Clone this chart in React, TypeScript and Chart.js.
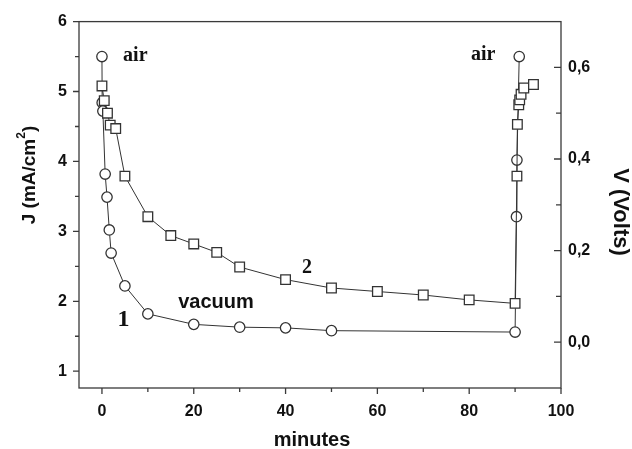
import React, { useEffect, useRef } from 'react';
import { Chart, registerables } from 'chart.js';

Chart.register(...registerables);

// Curve 1 (circles)
const circleX = [0, 0.05, 0.2, 0.7, 1.1, 1.6, 2.0, 5, 10, 20, 30, 40, 50, 90, 90.3, 90.4, 90.9];
const circleJ = [5.5, 4.84, 4.72, 3.82, 3.49, 3.02, 2.69, 2.22, 1.82, 1.67, 1.63, 1.62, 1.58, 1.56, 3.21, 4.02, 5.5];

// Curve 2 (squares)
const squareX = [0, 0.5, 1.2, 1.8, 3, 5, 10, 15, 20, 25, 30, 40, 50, 60, 70, 80, 90, 90.4, 90.5, 90.8, 91.0, 91.3, 91.9, 94];
const squareJ = [5.08, 4.87, 4.69, 4.52, 4.47, 3.79, 3.21, 2.94, 2.82, 2.7, 2.49, 2.31, 2.19, 2.14, 2.09, 2.02, 1.97, 3.79, 4.53, 4.81, 4.88, 4.96, 5.05, 5.1];

const xMajor = [0, 20, 40, 60, 80, 100];
const xMinor = [10, 30, 50, 70, 90];
const jMajor = [1, 2, 3, 4, 5, 6];
const jMinor = [1.5, 2.5, 3.5, 4.5, 5.5];
const vMajor = [0, 0.2, 0.4, 0.6];
const vMinor = [0.1, 0.3, 0.5];
const vLabels = ['0,0', '0,2', '0,4', '0,6'];

const AXIS = '#3a3a3a';
const SANS = '"Liberation Sans", Arial, sans-serif';
const SERIF = '"Liberation Serif", "Times New Roman", serif';

const annotations = [
  { text: 'air', x: 4.6, y: 5.44, font: `bold 20px ${SERIF}` },
  { text: 'air', x: 80.4, y: 5.45, font: `bold 20px ${SERIF}` },
  { text: 'vacuum', x: 16.6, y: 1.91, font: `bold 20px ${SANS}` },
  { text: '1', x: 3.4, y: 1.64, font: `bold 24px ${SERIF}` },
  { text: '2', x: 43.6, y: 2.4, font: `bold 20px ${SERIF}` },
];

const decorPlugin = {
  id: 'decor',
  afterDraw(chart: any) {
    const ctx = chart.ctx as CanvasRenderingContext2D;
    const { left, right, top, bottom } = chart.chartArea;
    const sx = chart.scales.x;
    const sy = chart.scales.y;
    const sv = chart.scales.y2;
    ctx.save();
    ctx.strokeStyle = AXIS;
    ctx.lineWidth = 1.3;
    ctx.strokeRect(left, top, right - left, bottom - top);
    ctx.beginPath();
    const tick = (x1: number, y1: number, x2: number, y2: number) => {
      ctx.moveTo(x1, y1);
      ctx.lineTo(x2, y2);
    };
    xMajor.forEach((v) => { const p = sx.getPixelForValue(v); tick(p, bottom, p, bottom + 6); });
    xMinor.forEach((v) => { const p = sx.getPixelForValue(v); tick(p, bottom, p, bottom + 4); });
    jMajor.forEach((v) => { const p = sy.getPixelForValue(v); tick(left, p, left - 6, p); });
    jMinor.forEach((v) => { const p = sy.getPixelForValue(v); tick(left, p, left - 4, p); });
    vMajor.forEach((v) => { const p = sv.getPixelForValue(v); tick(right, p, right - 7, p); });
    vMinor.forEach((v) => { const p = sv.getPixelForValue(v); tick(right, p, right - 5, p); });
    ctx.stroke();

    ctx.fillStyle = '#111';
    // x title
    ctx.font = `bold 20px ${SANS}`;
    ctx.textAlign = 'center';
    ctx.textBaseline = 'alphabetic';
    ctx.fillText('minutes', 312, 446);

    // left title with superscript
    ctx.save();
    ctx.translate(30, 175);
    ctx.rotate(-Math.PI / 2);
    const main1 = 'J (mA/cm';
    const sup = '2';
    const end = ')';
    ctx.font = `bold 19px ${SANS}`;
    const w1 = ctx.measureText(main1).width;
    const w3 = ctx.measureText(end).width;
    ctx.font = `bold 12px ${SANS}`;
    const w2 = ctx.measureText(sup).width;
    const total = w1 + w2 + w3;
    let cx = -total / 2;
    ctx.textAlign = 'left';
    ctx.textBaseline = 'middle';
    ctx.font = `bold 19px ${SANS}`;
    ctx.fillText(main1, cx, 0);
    cx += w1;
    ctx.font = `bold 12px ${SANS}`;
    ctx.fillText(sup, cx, -8);
    cx += w2;
    ctx.font = `bold 19px ${SANS}`;
    ctx.fillText(end, cx, 0);
    ctx.restore();

    // right title
    ctx.save();
    ctx.translate(620, 212);
    ctx.rotate(Math.PI / 2);
    ctx.font = `bold 22px ${SANS}`;
    ctx.textAlign = 'center';
    ctx.textBaseline = 'middle';
    ctx.fillText('V (Volts)', 0, 0);
    ctx.restore();

    // annotations
    ctx.textAlign = 'left';
    ctx.textBaseline = 'alphabetic';
    annotations.forEach((a) => {
      ctx.font = a.font;
      ctx.fillText(a.text, sx.getPixelForValue(a.x), sy.getPixelForValue(a.y));
    });
    ctx.restore();
  },
};

export default function App() {
  const ref = useRef<HTMLCanvasElement | null>(null);
  useEffect(() => {
    document.body.style.margin = '0';
    const canvas = ref.current;
    if (!canvas) return;
    const chart = new Chart(canvas, {
      type: 'scatter',
      data: {
        datasets: [
          {
            label: '2',
            data: squareX.map((x, i) => ({ x, y: squareJ[i] })),
            showLine: true,
            borderColor: '#333',
            borderWidth: 1,
            pointStyle: 'rect',
            pointRadius: 6.8,
            pointBackgroundColor: '#fff',
            pointBorderColor: '#333',
            pointBorderWidth: 1.3,
            yAxisID: 'y',
          },
          {
            label: '1',
            data: circleX.map((x, i) => ({ x, y: circleJ[i] })),
            showLine: true,
            borderColor: '#333',
            borderWidth: 1,
            pointStyle: 'circle',
            pointRadius: 5.2,
            pointBackgroundColor: '#fff',
            pointBorderColor: '#333',
            pointBorderWidth: 1.3,
            yAxisID: 'y',
          },
        ],
      },
      options: {
        animation: false,
        responsive: false,
        maintainAspectRatio: false,
        layout: { padding: { top: 20, left: 0, right: 0, bottom: 0 } },
        plugins: { legend: { display: false }, tooltip: { enabled: false } },
        scales: {
          x: {
            type: 'linear',
            position: 'bottom',
            min: -5,
            max: 100,
            grid: { display: false, drawTicks: false },
            border: { display: false },
            afterBuildTicks: (s: any) => { s.ticks = xMajor.map((v) => ({ value: v })); },
            afterFit: (s: any) => { s.height = 61; },
            ticks: {
              padding: 14,
              color: '#111',
              font: { family: SANS, size: 16, weight: 'bold' },
              maxRotation: 0,
              autoSkip: false,
            },
          },
          y: {
            type: 'linear',
            position: 'left',
            min: 0.76,
            max: 6,
            grid: { display: false, drawTicks: false },
            border: { display: false },
            afterBuildTicks: (s: any) => { s.ticks = jMajor.map((v) => ({ value: v })); },
            afterFit: (s: any) => { s.width = 79; },
            ticks: {
              padding: 12,
              color: '#111',
              font: { family: SANS, size: 16, weight: 'bold' },
              autoSkip: false,
            },
          },
          y2: {
            type: 'linear',
            position: 'right',
            min: -0.1,
            max: 0.7,
            grid: { display: false, drawTicks: false },
            border: { display: false },
            afterBuildTicks: (s: any) => { s.ticks = vMajor.map((v) => ({ value: v })); },
            afterFit: (s: any) => { s.width = 71; },
            ticks: {
              padding: 7,
              color: '#111',
              font: { family: SANS, size: 16, weight: 'bold' },
              autoSkip: false,
              callback: (_v: any, i: number) => vLabels[i],
            },
          },
        },
      },
      plugins: [decorPlugin],
    } as any);
    return () => chart.destroy();
  }, []);
  return <canvas ref={ref} width={632} height={449} style={{ display: 'block' }} />;
}
